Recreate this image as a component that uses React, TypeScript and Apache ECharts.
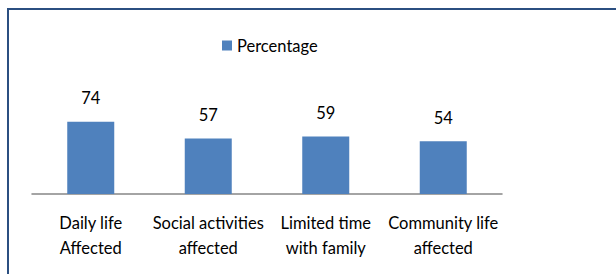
import React, { useEffect, useRef } from "react";
import * as echarts from "echarts";

const categories = [
  "Daily life\nAffected",
  "Social activities\naffected",
  "Limited time\nwith family",
  "Community life\naffected",
];
const seriesName = "Percentage";
const values = [74, 57, 59, 54];

export default function App() {
  const ref = useRef<HTMLDivElement>(null);
  useEffect(() => {
    if (!ref.current) return;
    const chart = echarts.init(ref.current, null, { renderer: "svg" });
    const font = "Lato, 'Open Sans', sans-serif";
    chart.setOption({
      animation: false,
      backgroundColor: "#ffffff",
      textStyle: { fontFamily: font },
      graphic: [
        {
          type: "rect",
          shape: { x: 8, y: 9, width: 700, height: 400 },
          style: { fill: "none", stroke: "#2b4f81", lineWidth: 2 },
          silent: true,
        },
      ],
      legend: {
        data: [seriesName],
        left: 217,
        top: 32,
        icon: "rect",
        itemWidth: 10,
        itemHeight: 10,
        itemGap: 6,
        textStyle: { fontFamily: font, fontSize: 16.5, color: "#000" },
      },
      grid: { left: 32, right: 114, top: 116, bottom: 80 },
      xAxis: {
        type: "category",
        data: categories,
        axisLine: { lineStyle: { color: "#868686", width: 1.5 } },
        axisTick: { show: false },
        axisLabel: {
          interval: 0,
          margin: 16,
          fontSize: 16.5,
          lineHeight: 25,
          color: "#000",
          fontFamily: font,
        },
      },
      yAxis: {
        type: "value",
        min: 0,
        max: 80,
        show: false,
        splitLine: { show: false },
      },
      series: [
        {
          name: seriesName,
          type: "bar",
          data: values,
          barWidth: "40%",
          itemStyle: { color: "#4f81bd" },
          label: {
            show: true,
            position: "top",
            distance: 15,
            fontSize: 16.5,
            color: "#000",
            fontFamily: font,
          },
        },
      ],
    });
    return () => chart.dispose();
  }, []);
  return (
    <div
      ref={ref}
      style={{ position: "fixed", left: 0, top: 0, width: 616, height: 274 }}
    />
  );
}
